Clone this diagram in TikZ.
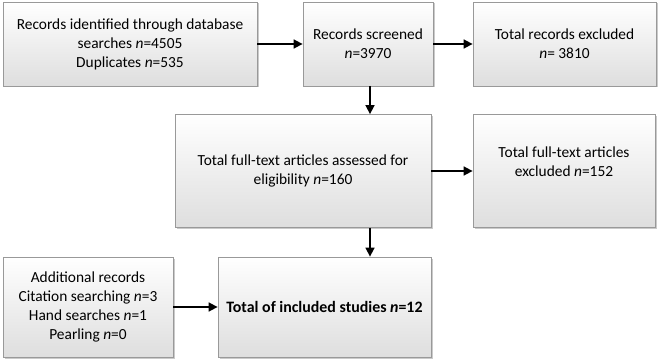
\documentclass[tikz,border=0pt]{standalone}
\usepackage{fontspec}
\setmainfont{Carlito}
\usetikzlibrary{arrows.meta,shadows}
\begin{document}
\begin{tikzpicture}[x=1pt,y=-1pt,
  box/.style={draw=black!40, line width=0.8pt, top color=white, bottom color=black!13,
    align=center, font=\fontsize{15.4}{19}\selectfont, inner sep=2pt,
    drop shadow={shadow xshift=1.5pt, shadow yshift=-1.5pt, fill=black!35, opacity=0.6}},
  arr/.style={line width=1.6pt, -{Triangle[length=9pt,width=9pt]}}]
\useasboundingbox (0,0) rectangle (660,363);
\node[box, minimum width=254pt, minimum height=84pt] (a) at (130,44)
  {Records identified through database\\ searches \textit{n}=4505\\ Duplicates \textit{n}=535};
\node[box, minimum width=130pt, minimum height=84pt] (b) at (368,44)
  {Records screened\\ \textit{n}=3970};
\node[box, minimum width=183pt, minimum height=84pt] (c) at (564.5,44)
  {Total records excluded\\ \textit{n}= 3810};
\node[box, minimum width=256pt, minimum height=113pt] (d) at (303,171)
  {Total full-text articles assessed for\\ eligibility \textit{n}=160};
\node[box, minimum width=182pt, minimum height=113pt, text depth=18pt] (e) at (564,171)
  {Total full-text articles\\ excluded \textit{n}=152};
\node[box, minimum width=170pt, minimum height=100pt] (f) at (88,307)
  {Additional records\\ Citation searching \textit{n}=3\\ Hand searches \textit{n}=1\\ Pearling \textit{n}=0};
\node[box, minimum width=213pt, minimum height=100pt] (g) at (324.5,307)
  {\fontsize{15.9}{19}\selectfont\textbf{Total of included studies \textit{n}=12}};
\coordinate (bs) at (370,86);
\draw[arr] (a) -- (b);
\draw[arr] (b) -- (c);
\draw[arr] (bs) -- (bs |- d.north);
\draw[arr] (d) -- (e);
\draw[arr] (bs |- d.south) -- (bs |- g.north);
\draw[arr] (f) -- (g);
\end{tikzpicture}
\end{document}
